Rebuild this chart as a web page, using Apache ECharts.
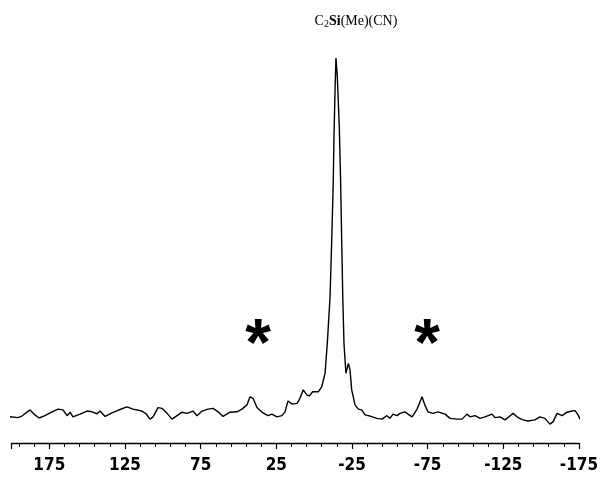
<!DOCTYPE html>
<html>
<head>
<meta charset="utf-8">
<script src="https://cdn.jsdelivr.net/npm/echarts@6/dist/echarts.min.js"></script>
<style>
  html, body { margin: 0; padding: 0; background: #fff; }
  #chartMain { width: 605px; height: 493px; }
</style>
</head>
<body>
<div id="chartMain"></div>
<script>
// chemical shift (ppm), left to right
const shiftPpm = [
  201, 195.7, 193.1, 187.8, 184.5, 181.8, 177.9, 173.2, 169.3, 166.0,
  163.3, 161.3, 159.4, 154.7, 150.1, 146.8, 143.5, 141.5, 138.2, 133.6,
  129.6, 123.7, 119.7, 113.8, 111.1, 108.5, 106.5, 103.2, 100.6, 97.2,
  93.9, 90.6, 87.3, 84.0, 80.1, 77.4, 74.1, 70.2, 66.8, 63.5,
  60.2, 55.6, 51.0, 47.7, 44.4, 42.4, 40.4, 37.8, 33.8, 30.5,
  27.9, 24.6, 21.3, 19.3, 17.3, 14.6, 11.3, 9.4, 7.2, 4.9,
  3.2, 1.0, -2.7, -5.0, -7.2, -8.7, -10.5, -11.6, -12.6, -13.1,
  -13.8, -14.4, -15.3, -16.6, -17.5, -18.2, -18.9, -19.7, -20.4, -21.0,
  -22.6, -23.7, -24.8, -27.0, -29.2, -31.4, -33.6, -36.9, -38.2, -41.5,
  -44.8, -48.1, -50.1, -52.1, -54.7, -56.7, -60.0, -62.0, -64.7, -68.0,
  -71.3, -73.3, -75.2, -78.5, -81.8, -86.5, -89.8, -94.4, -97.7, -101.0,
  -103.0, -106.3, -109.6, -112.9, -117.5, -119.5, -122.8, -126.1, -128.7, -131.4,
  -134.7, -138.0, -141.3, -145.9, -149.2, -152.5, -155.8, -157.8, -160.5, -163.8,
  -167.1, -170.4, -172.4, -174.4, -175.7, -177.6
];
// intensity (arbitrary units, peak = 100)
const intensity = [
  6.8, 6.6, 7.0, 8.6, 7.3, 6.5, 7.1, 8.1, 8.8, 8.6,
  7.1, 8.0, 6.8, 7.5, 8.3, 8.1, 7.6, 8.3, 6.9, 7.8,
  8.5, 9.4, 8.8, 8.3, 7.6, 6.2, 6.8, 9.2, 9.0, 7.7,
  6.2, 7.1, 8.0, 7.7, 8.3, 7.1, 8.3, 8.8, 9.0, 8.1,
  6.9, 8.0, 8.1, 8.8, 9.9, 12.0, 11.6, 9.2, 7.8, 7.1,
  7.5, 6.8, 7.1, 8.1, 10.9, 10.1, 10.3, 11.6, 13.8, 12.5,
  12.2, 13.3, 13.3, 14.6, 18.1, 26.0, 38.0, 52.7, 67.5, 79.6,
  91.7, 100, 95.1, 82.2, 67.5, 52.7, 38.0, 25.9, 21.6, 18.1,
  20.7, 19.0, 13.8, 9.9, 8.8, 8.6, 7.3, 7.0, 6.8, 6.4,
  6.2, 7.1, 6.4, 7.5, 7.1, 7.7, 8.1, 7.5, 6.8, 8.8,
  12.0, 9.7, 8.1, 7.7, 8.1, 7.5, 6.4, 6.2, 6.2, 7.5,
  6.8, 7.1, 6.4, 6.8, 7.5, 6.6, 6.8, 6.0, 6.8, 7.7,
  6.6, 6.0, 5.7, 6.0, 6.8, 6.4, 4.9, 5.5, 7.7, 7.1,
  8.0, 8.3, 8.4, 7.3, 6.2, 7.1
];
// spinning sidebands marked with an asterisk
const sidebandPpm = [37.1, -74.6];
const sidebandLevel = [28, 28];

const spectrum = shiftPpm.map((x, i) => [x, intensity[i]]);

let myChart = echarts.init(document.getElementById('chartMain'));

myChart.setOption({
    animation: false,
    backgroundColor: '#fff',
    title: {
        text: '{a|C}{sub|2}{b|Si}{a|(Me)(CN)}',
        left: 351,
        top: 8,
        textAlign: 'center',
        textStyle: {
            fontWeight: 'normal',
            rich: {
                a: { fontFamily: 'Liberation Serif', fontSize: 14, fontWeight: 'normal', color: '#000' },
                b: { fontFamily: 'Liberation Serif', fontSize: 14, fontWeight: 'bold', color: '#000' },
                sub: { fontFamily: 'Liberation Serif', fontSize: 10, fontWeight: 'normal', color: '#000', verticalAlign: 'bottom', padding: [6, 0, 0, 0] }
            }
        }
    },
    grid: { left: 11.5, right: 26, top: 58, bottom: 50, outerBoundsMode: 'none' },
    xAxis: {
        type: 'value',
        inverse: true,
        min: -175,
        max: 200,
        interval: 50,
        splitLine: { show: false },
        axisLine: { show: true, onZero: false, lineStyle: { color: '#000', width: 1.3 } },
        axisTick: { show: true, length: 6, lineStyle: { color: '#000', width: 1.2 } },
        minorTick: { show: true, splitNumber: 5, length: 4, lineStyle: { color: '#000', width: 1 } },
        axisLabel: {
            showMaxLabel: false,
            margin: 14,
            color: '#000',
            fontFamily: "'DejaVu Sans Condensed', 'Liberation Sans', sans-serif",
            fontWeight: 'bold',
            fontSize: 17
        }
    },
    yAxis: {
        type: 'value',
        min: 0,
        max: 100,
        show: false,
        splitLine: { show: false }
    },
    series: [{
        type: 'line',
        data: spectrum,
        showSymbol: false,
        clip: false,
        lineStyle: { color: '#000', width: 1.4 },
        markPoint: {
            symbol: 'circle',
            symbolSize: 0,
            label: {
                show: true,
                position: 'inside',
                formatter: '*',
                color: '#000',
                fontFamily: 'Liberation Sans',
                fontWeight: 'bold',
                fontSize: 66,
                offset: [0, 12]
            },
            data: sidebandPpm.map((x, i) => ({ coord: [x, sidebandLevel[i]] }))
        }
    }]
});
</script>
</body>
</html>
